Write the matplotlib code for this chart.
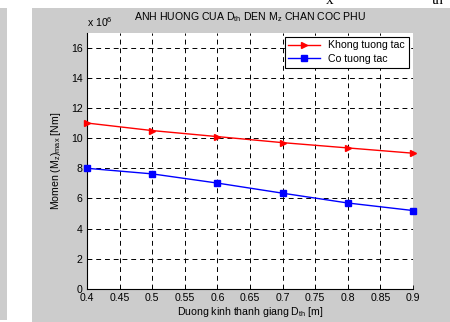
import matplotlib
matplotlib.use("Agg")
from matplotlib import pyplot as plt
from matplotlib.patches import Rectangle

# data (values in 1e6 Nm)
d_th = [0.4, 0.5, 0.6, 0.7, 0.8, 0.9]
khong_tuong_tac = [11.0, 10.5, 10.1, 9.7, 9.35, 9.0]
co_tuong_tac = [8.0, 7.63, 7.02, 6.35, 5.7, 5.2]
xticks = [0.4, 0.45, 0.5, 0.55, 0.6, 0.65, 0.7, 0.75, 0.8, 0.85, 0.9]
xtick_labels = ["0.4", "0.45", "0.5", "0.55", "0.6", "0.65", "0.7", "0.75", "0.8", "0.85", "0.9"]
yticks = [0, 2, 4, 6, 8, 10, 12, 14, 16]

plt.rcParams['font.family'] = ['Liberation Sans', 'DejaVu Sans']
plt.rcParams['mathtext.fontset'] = 'custom'
plt.rcParams['mathtext.rm'] = 'Liberation Sans'
plt.rcParams['mathtext.it'] = 'Liberation Sans'

W, H = 450, 322
fs = 7.6
fig = plt.figure(figsize=(4.5, 3.22), dpi=100)
fig.patch.set_facecolor('white')

grey = '#cccccc'
# page background pieces (document screenshot)
fig.patches.append(Rectangle((0, 2 / H), 7 / W, (314 - 2) / H, transform=fig.transFigure,
                             facecolor=grey, edgecolor='none', zorder=-10))
fig.patches.append(Rectangle((32 / W, 0), (W - 32) / W, (322 - 8) / H, transform=fig.transFigure,
                             facecolor=grey, edgecolor='none', zorder=-10))
# cut-off document text at the top
fig.text(330 / W, 1.0, "x", fontsize=11, family='Liberation Serif', ha='center', va='center')
fig.text(438 / W, 1.0, "th", fontsize=11, family='Liberation Serif', ha='center', va='center')

left, right = 87 / W, 413 / W
bottom, top = 1 - 289 / H, 1 - 32.5 / H
ax = fig.add_axes([left, bottom, right - left, top - bottom])
ax.set_facecolor('white')

ax.plot(d_th, khong_tuong_tac, color='red', marker='>', markersize=5, linewidth=1.0,
        label='Khong tuong tac', clip_on=False, zorder=5)
ax.plot(d_th, co_tuong_tac, color='blue', marker='s', markersize=5, linewidth=1.0,
        label='Co tuong tac', clip_on=False, zorder=5)

ax.set_xlim(0.4, 0.9)
ax.set_ylim(0, 17)
ax.set_xticks(xticks)
ax.set_xticklabels(xtick_labels)
ax.set_yticks(yticks)
ax.tick_params(direction='in', length=3, labelsize=fs, pad=3, colors='black', width=0.6)
ax.tick_params(axis='y', pad=3)
ax.grid(True, color='black', linestyle=(0, (5, 4)), linewidth=0.7)

for s in ['top', 'right']:
    ax.spines[s].set_visible(False)
for s in ['left', 'bottom']:
    ax.spines[s].set_linewidth(0.8)

ax.set_title("ANH HUONG CUA D$_{th}$ DEN M$_z$ CHAN COC PHU", fontsize=fs, pad=9)
ax.set_xlabel("Duong kinh thanh giang D$_{th}$ [m]", fontsize=fs, labelpad=1)
ax.set_ylabel("Momen (M$_z$)$_{max}$ [Nm]", fontsize=fs, labelpad=6)
ax.text(0.0, 1.015, r"x 10$^6$", transform=ax.transAxes, fontsize=fs, ha='left', va='bottom')

leg = ax.legend(loc='upper right', fontsize=fs, frameon=True, fancybox=False,
                borderaxespad=0.4, handlelength=3.0, borderpad=0.35, labelspacing=0.35)
leg.get_frame().set_edgecolor('black')
leg.get_frame().set_linewidth(0.8)
leg.get_frame().set_alpha(1)

fig.savefig('out.png', dpi=100)
